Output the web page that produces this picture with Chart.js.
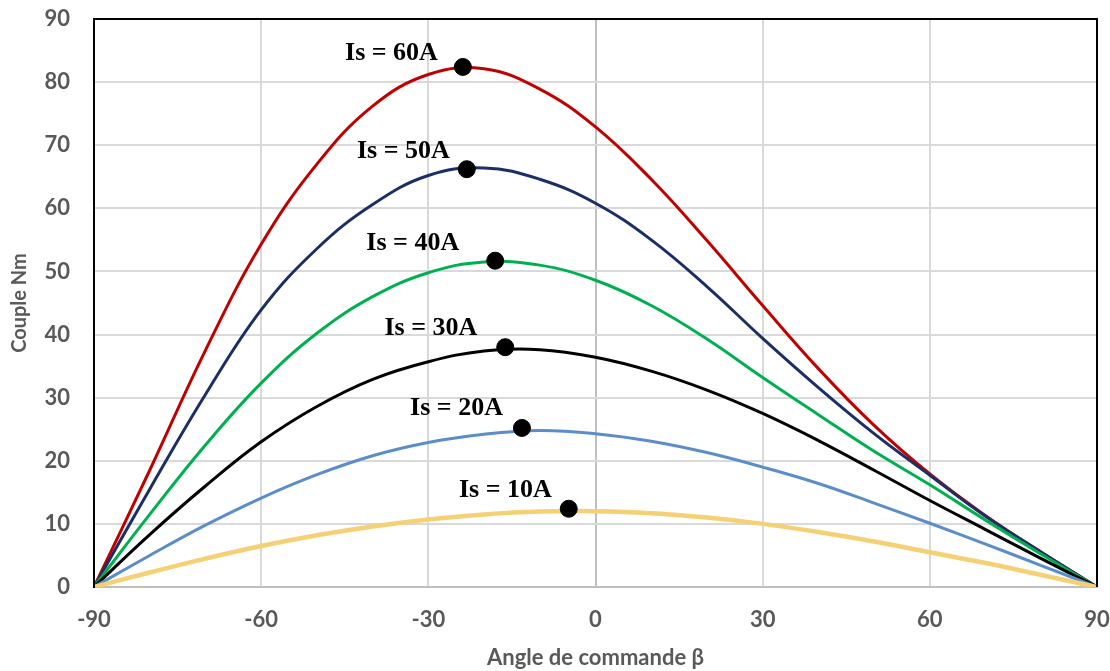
<!DOCTYPE html>
<html>
<head>
<meta charset="utf-8">
<script src="https://cdn.jsdelivr.net/npm/chart.js@4"></script>
<style>
  html, body { margin: 0; padding: 0; background: #fff; }
  #wrap { width: 1110px; height: 671px; }
</style>
</head>
<body>
<div id="wrap"><canvas id="torqueChart" width="1110" height="671"></canvas></div>
<script>
// angle beta (deg)
const beta = [-90, -80, -70, -60, -50, -40, -30, -20, -10, 0, 10, 20, 30, 40, 50, 60, 70, 80, 90];

// torque (Nm) for each stator current
const is10 = [0, 2.3, 4.5, 6.5, 8.2, 9.6, 10.7, 11.5, 11.95, 12.0, 11.7, 11.0, 10.0, 8.7, 7.2, 5.5, 3.8, 1.9, 0];
const is20 = [0, 5.0, 9.8, 14.1, 17.8, 20.8, 22.9, 24.2, 24.8, 24.3, 23.1, 21.3, 19.0, 16.4, 13.3, 10.1, 6.8, 3.4, 0];
const is30 = [0, 8.3, 16.0, 23.0, 28.6, 32.9, 35.7, 37.4, 37.6, 36.4, 34.2, 31.2, 27.5, 23.2, 18.5, 13.7, 9.1, 4.5, 0];
const is40 = [0, 11.5, 22.5, 32.3, 40.2, 46.0, 49.8, 51.5, 51.0, 48.6, 44.6, 39.3, 33.2, 27.3, 21.5, 16.2, 10.6, 5.2, 0];
const is50 = [0, 15.5, 30.5, 43.9, 53.6, 60.6, 65.2, 66.4, 64.6, 60.8, 55.0, 47.6, 39.4, 31.6, 24.3, 17.7, 11.2, 5.5, 0];
const is60 = [0, 18.5, 37.5, 54.3, 67.0, 76.2, 81.2, 82.1, 78.9, 72.9, 64.6, 54.9, 44.6, 34.6, 25.6, 17.9, 11.3, 5.5, 0];

// maximum-torque markers
const dotLabels = ['Is = 60A', 'Is = 50A', 'Is = 40A', 'Is = 30A', 'Is = 20A', 'Is = 10A'];
const dotBeta = [-23.8, -23.1, -18.0, -16.2, -13.2, -4.8];
const dotTorque = [82.4, 66.2, 51.7, 38.0, 25.2, 12.4];

const xTicks = [-90, -60, -30, 0, 30, 60, 90];

function pts(values) {
    return beta.map((b, i) => ({ x: b, y: values[i] }));
}

const tickColor = '#595959';
const gridColor = '#D9D9D9';

// label offsets relative to each dot (px)
const labelOffsets = [[-25, -14], [-17, -18], [-36, -17], [-28, -19], [-19, -20], [-17, -18]];

const frameAndLabels = {
    id: 'frameAndLabels',
    afterDatasetsDraw(chart) {
        const ctx = chart.ctx;
        const a = chart.chartArea;
        ctx.save();
        // black frame on top, left and right
        ctx.strokeStyle = '#000';
        ctx.lineWidth = 2;
        ctx.beginPath();
        ctx.moveTo(a.left, a.bottom);
        ctx.lineTo(a.left, a.top);
        ctx.lineTo(a.right, a.top);
        ctx.lineTo(a.right, a.bottom);
        ctx.stroke();

        const xs = chart.scales.x;
        const ys = chart.scales.y;
        ctx.fillStyle = '#000';
        ctx.font = 'bold 26px "Liberation Serif", "Times New Roman", serif';
        ctx.textAlign = 'right';
        ctx.textBaseline = 'middle';
        dotLabels.forEach((txt, i) => {
            const px = xs.getPixelForValue(dotBeta[i]);
            const py = ys.getPixelForValue(dotTorque[i]);
            ctx.fillText(txt, px + labelOffsets[i][0], py + labelOffsets[i][1]);
        });
        ctx.restore();
    }
};

function curve(values, color, width) {
    return {
        data: pts(values),
        borderColor: color,
        borderWidth: width,
        pointRadius: 0,
        showLine: true,
        fill: false,
        tension: 0.4
    };
}

const ctx = document.getElementById('torqueChart').getContext('2d');
new Chart(ctx, {
    type: 'scatter',
    data: {
        datasets: [
            {
                data: dotBeta.map((b, i) => ({ x: b, y: dotTorque[i] })),
                backgroundColor: '#000',
                borderColor: '#000',
                pointRadius: 8.5,
                showLine: false,
                order: 0
            },
            curve(is10, '#F5D074', 4.5),
            curve(is20, '#5B8DC9', 3),
            curve(is30, '#000000', 3),
            curve(is40, '#00B050', 3),
            curve(is50, '#1B2F66', 3),
            curve(is60, '#C00000', 3)
        ]
    },
    options: {
        responsive: false,
        animation: false,
        layout: { padding: { left: 0, right: 13, top: 19, bottom: 0 } },
        plugins: {
            legend: { display: false },
            tooltip: { enabled: false }
        },
        scales: {
            x: {
                type: 'linear',
                min: -90,
                max: 90,
                afterBuildTicks: axis => { axis.ticks = xTicks.map(v => ({ value: v })); },
                afterFit: scale => {
                    scale.height = 84;
                    scale.paddingLeft = 0;
                    scale.paddingRight = 0;
                },
                grid: {
                    color: c => (c.tick && c.tick.value === 0) ? '#BFBFBF' : gridColor,
                    lineWidth: 2,
                    drawTicks: false
                },
                border: { color: '#BFBFBF', width: 2 },
                ticks: {
                    color: tickColor,
                    font: { family: 'Lato', size: 22, weight: 'bold' },
                    padding: 20
                },
                title: {
                    display: true,
                    text: 'Angle de commande β',
                    color: tickColor,
                    font: { family: 'Lato', size: 22, weight: 'bold' },
                    padding: { top: 10, bottom: 0 }
                }
            },
            y: {
                min: 0,
                max: 90,
                afterFit: scale => {
                    scale.width = 94;
                    scale.paddingTop = 0;
                    scale.paddingBottom = 0;
                },
                grid: { color: gridColor, lineWidth: 2, drawTicks: false },
                border: { color: '#000', width: 2 },
                ticks: {
                    stepSize: 10,
                    color: tickColor,
                    font: { family: 'Lato', size: 22, weight: 'bold' },
                    padding: 24
                },
                title: {
                    display: true,
                    text: 'Couple Nm',
                    color: tickColor,
                    font: { family: 'Lato', size: 20, weight: 'bold' },
                    padding: { top: 8, bottom: 0 }
                }
            }
        }
    },
    plugins: [frameAndLabels]
});
</script>
</body>
</html>
